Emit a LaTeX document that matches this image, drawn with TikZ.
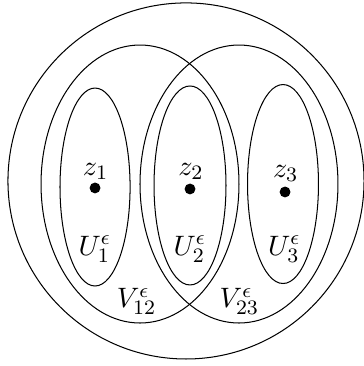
\documentclass[tikz,border=0pt]{standalone}
\usepackage{amsmath}
\usepackage{tikz}
\usetikzlibrary{calc}

\begin{document}
\begin{tikzpicture}[scale=1, font=\fontsize{11}{13}\selectfont]

% Styles
\tikzset{
  point/.style={circle, fill, inner sep=1.5pt},
  region/.style={thin},
  tag/.style={inner sep=1pt}
}

\useasboundingbox (0,0) rectangle (4.973,5.014);

% Coordinates
\coordinate (O) at (2.548,2.535);   % centre of outer disc
\coordinate (C12) at (1.918,2.493); % centre of V_12
\coordinate (C23) at (3.274,2.493); % centre of V_23

% Outer disc
\draw[region] (O) circle (2.439);

% Neighbourhoods V
\draw[region] (C12) ellipse (1.356 and 1.904);
\draw[region] (C23) ellipse (1.356 and 1.904);

% Neighbourhoods U
\draw[region] (1.302,2.452) ellipse (0.480 and 1.356);
\draw[region] (2.603,2.473) ellipse (0.493 and 1.363);
\draw[region] (3.877,2.493) ellipse (0.486 and 1.363);

% Points
\node[point] (z1) at (1.302,2.439) {};
\node[point] (z2) at (2.603,2.425) {};
\node[point] (z3) at (3.905,2.384) {};
\node[tag] (lz1) at (1.310,2.665) {$z_1$};
\node[tag] (lz2) at (2.615,2.665) {$z_2$};
\node[tag] (lz3) at (3.915,2.640) {$z_3$};

% Labels
\node[tag] (u1) at (1.300,1.600) {$U_1^\epsilon$};
\node[tag] (u2) at (2.600,1.600) {$U_2^\epsilon$};
\node[tag] (u3) at (3.895,1.600) {$U_3^\epsilon$};
\node[tag] (v12) at (1.870,0.884) {$V_{12}^\epsilon$};
\node[tag] (v23) at (3.280,0.884) {$V_{23}^\epsilon$};

\end{tikzpicture}
\end{document}
